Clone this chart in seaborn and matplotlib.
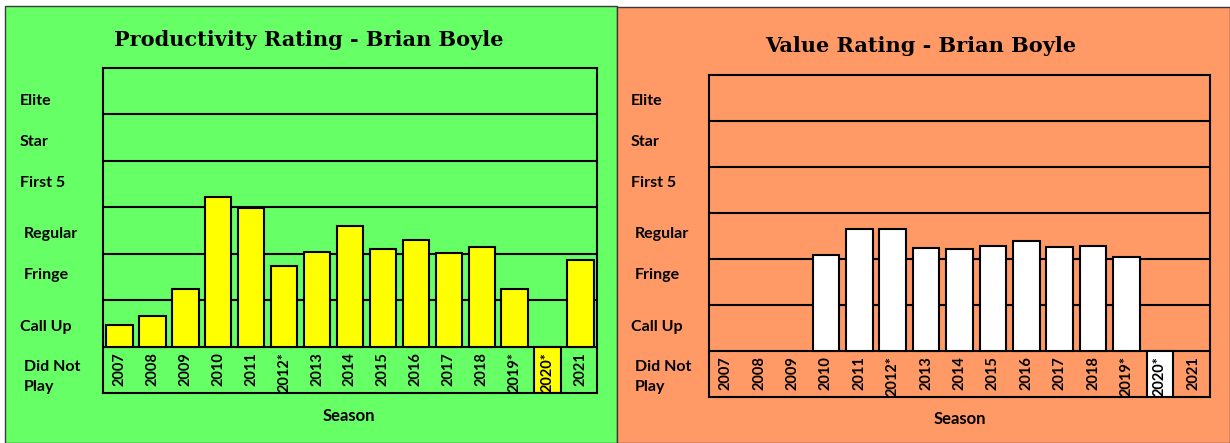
import numpy as np
import pandas as pd
import matplotlib
matplotlib.use("Agg")
import matplotlib.pyplot as plt
import seaborn as sns
from matplotlib.patches import Rectangle

# ---------------- data ----------------
seasons = ["2007", "2008", "2009", "2010", "2011", "2012*", "2013", "2014",
           "2015", "2016", "2017", "2018", "2019*", "2020*", "2021"]
rating_labels = ["Elite", "Star", "First 5", "Regular", "Fringe", "Call Up", "Did Not\nPlay"]
# rating scale: 0 = Call Up floor ... 6 = Elite ceiling; -1 = Did Not Play; NaN = no rating
productivity = [0.46, 0.66, 1.25, 3.23, 2.98, 1.74, 2.03, 2.59, 2.11, 2.30, 2.01, 2.14, 1.25, -1, 1.86]
value = [np.nan, np.nan, np.nan, 2.09, 2.66, 2.66, 2.25, 2.22, 2.29, 2.39, 2.27, 2.29, 2.05, -1, np.nan]
titles = ["Productivity Rating - Brian Boyle", "Value Rating - Brian Boyle"]
x_title = "Season"

# ---------------- style ----------------
sns.set_style("white")
plt.rcParams["font.family"] = ["Lato", "DejaVu Sans"]
plt.rcParams["text.color"] = "black"
plt.rcParams["axes.labelcolor"] = "black"
plt.rcParams["xtick.color"] = "black"
plt.rcParams["ytick.color"] = "black"

W, H = 1230, 443
fig = plt.figure(figsize=(W / 100, H / 100), dpi=100)
fig.patch.set_facecolor("white")

def fx(px):
    return px / W

def fy(py):
    return 1 - py / H

panels = [
    dict(bg="#66FF66", bar="#FFFF00", rect=(5, 6, 617, 443), ax=(103, 68, 597, 393),
         label_x=20, title=(309, 40), season=(0.498, -0.045), data=productivity),
    dict(bg="#FF9966", bar="#FFFFFF", rect=(617, 7, 1230, 443), ax=(709, 75, 1210, 397),
         label_x=631, title=(921, 46), season=(0.501, -0.042), data=value),
]
label_y_px = [101, 142, 183, 234, 275, 327, 377]
label_dx = [0, 0, 0, 4, 4, 0, 4]

for i, p in enumerate(panels):
    x0, y0, x1, y1 = p["rect"]
    fig.patches.append(Rectangle((fx(x0), fy(y1)), fx(x1) - fx(x0), fy(y0) - fy(y1),
                                 transform=fig.transFigure, facecolor=p["bg"],
                                 edgecolor="#3a3a3a", linewidth=1.0, zorder=-10))
    ax_l, ax_t, ax_r, ax_b = p["ax"]
    ax = fig.add_axes([fx(ax_l), fy(ax_b), (ax_r - ax_l) / W, (ax_b - ax_t) / H])
    ax.set_facecolor("none")

    df = pd.DataFrame({"season": seasons, "rating": p["data"]}).dropna()
    sns.barplot(data=df, x="season", y="rating", order=seasons, color=p["bar"],
                saturation=1, edgecolor="black", linewidth=1.5, width=0.8, ax=ax)

    ax.set_axisbelow(False)
    ax.set_ylim(-1, 6)
    ax.set_xlim(-0.5, len(seasons) - 0.5)
    for yv in range(0, 6):
        ax.axhline(yv, color="black", lw=1.5, zorder=0.5)
    for s in ax.spines.values():
        s.set_visible(True)
        s.set_color("black")
        s.set_linewidth(1.5)
        s.set_zorder(3)
    ax.set_yticks([])
    ax.set_ylabel("")
    ax.tick_params(axis="x", length=0, pad=-29.3, labelrotation=90, colors="black")
    for t in ax.get_xticklabels():
        t.set_fontweight("bold")
        t.set_fontsize(10.5)
        t.set_color("black")
    ax.set_xlabel(x_title, fontsize=12, fontweight="bold", color="black")
    ax.xaxis.set_label_coords(*p["season"])

    fig.text(fx(p["title"][0]), fy(p["title"][1]), titles[i], ha="center", va="center",
             fontsize=15, fontweight="bold", family="DejaVu Serif", color="black")
    for lab, ly, dx in zip(rating_labels, label_y_px, label_dx):
        fig.text(fx(p["label_x"] + dx), fy(ly), lab, ha="left", va="center",
                 fontsize=11.5, fontweight="bold", linespacing=1.6, color="black")

fig.savefig("out.png", dpi=100)
